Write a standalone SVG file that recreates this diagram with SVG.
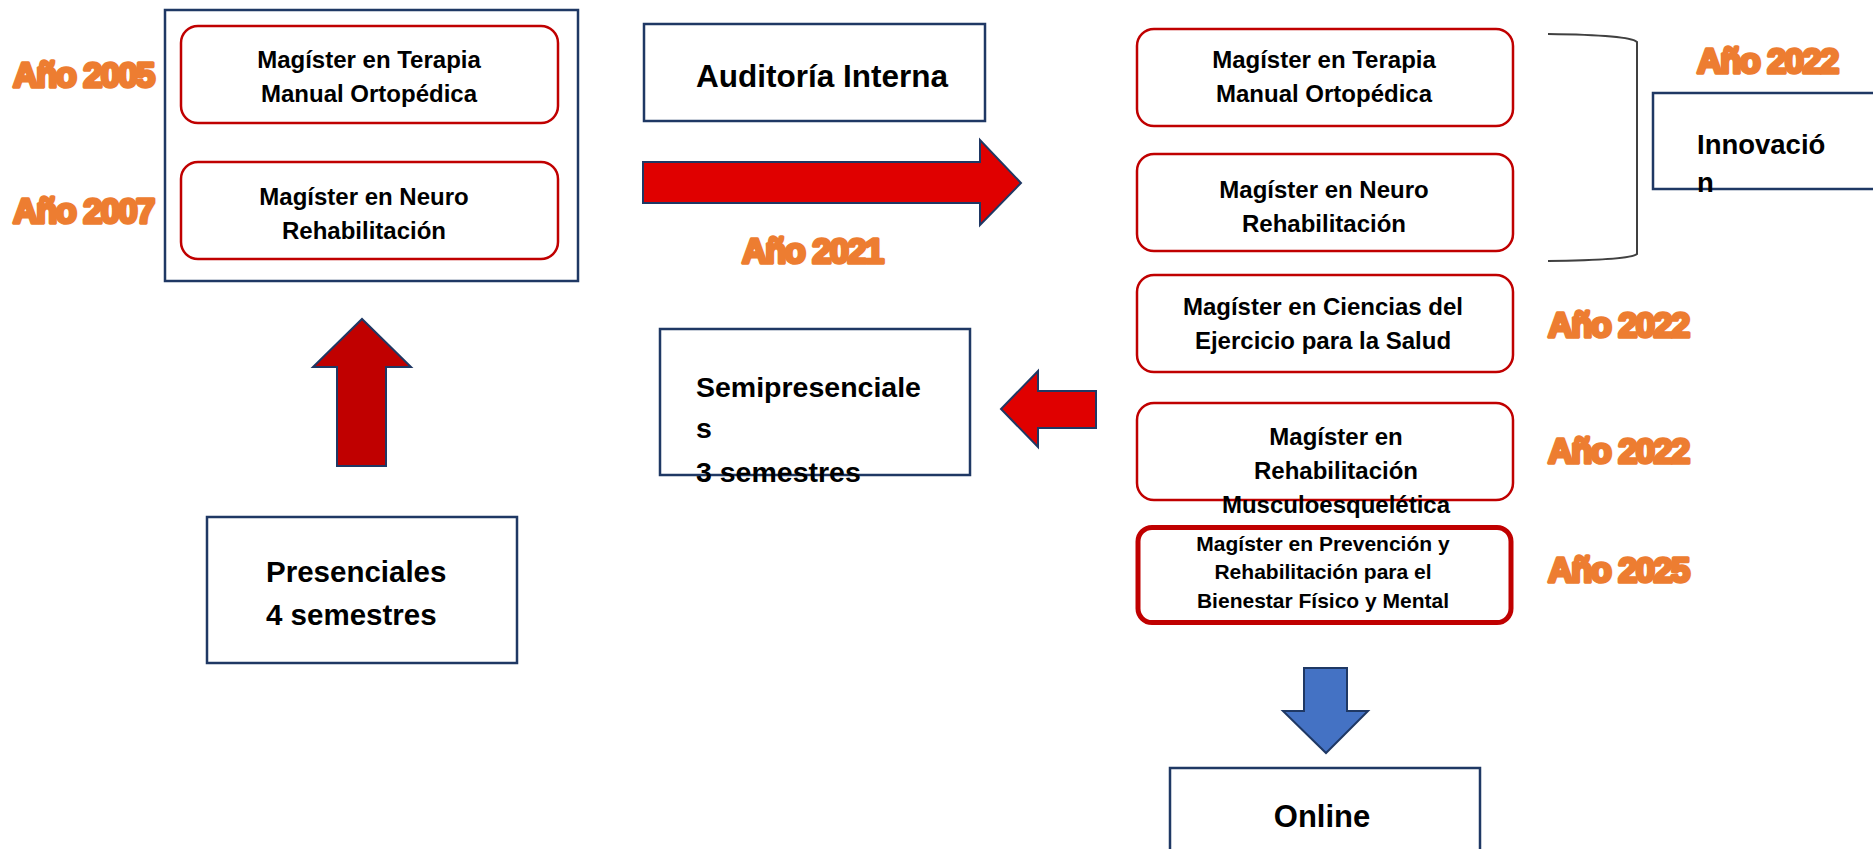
<svg xmlns="http://www.w3.org/2000/svg" width="1873" height="849" viewBox="0 0 1873 849">
<style>
.bg{fill:#ffffff}
.frame{fill:#ffffff;stroke:#1F3864;stroke-width:2.5}
.prog{fill:#ffffff;stroke:#C00000;stroke-width:2.5}
.prog2{fill:#ffffff;stroke:#C00000;stroke-width:5}
.t{font-family:"Liberation Sans",Arial,sans-serif;font-weight:bold;fill:#000000}
.c{text-anchor:middle}
.yr{font-family:"Liberation Sans",Arial,sans-serif;font-weight:bold;font-size:34.5px;letter-spacing:-1.6px;fill:#ED7D31;stroke:#ED7D31;stroke-width:3.5;stroke-linejoin:round;paint-order:stroke}
.arr{stroke:#1F3864;stroke-width:2;stroke-linejoin:miter}
.brace{fill:none;stroke:#404040;stroke-width:2}
</style>
<rect class="bg" x="0" y="0" width="1873" height="849"/>

<g id="connectors">
  <polygon class="arr" fill="#E00000" points="643,162 980,162 980,140 1021,183 980,225 980,203 643,203"/>
  <polygon class="arr" fill="#E00000" points="1096,391 1038,391 1038,371 1001,409 1038,447 1038,428 1096,428"/>
  <polygon class="arr" fill="#C00000" points="337,466 337,367 313,367 362,319 411,367 386,367 386,466"/>
  <polygon class="arr" fill="#4472C4" points="1304,668 1347,668 1347,711 1368,711 1326,753 1283,711 1304,711"/>
  <path class="brace" d="M1548,34 Q1630,35 1637,42 L1637,254 Q1630,260 1548,261"/>
</g>

<g id="presencial-group">
  <rect class="frame" x="165" y="10" width="413" height="271"/>
</g>
<g id="mtmo-2005">
  <rect class="prog" x="181" y="26" width="377" height="97" rx="17"/>
  <text class="t c" font-size="24" x="369" y="68">Magíster en Terapia</text>
  <text class="t c" font-size="24" x="369" y="102">Manual Ortopédica</text>
</g>
<g id="mnr-2007">
  <rect class="prog" x="181" y="162" width="377" height="97" rx="17"/>
  <text class="t c" font-size="24" x="364" y="205">Magíster en Neuro</text>
  <text class="t c" font-size="24" x="364" y="239">Rehabilitación</text>
</g>
<g id="year-2005"><text class="yr" x="13" y="87">Año 2005</text></g>
<g id="year-2007"><text class="yr" x="13" y="223">Año 2007</text></g>

<g id="auditoria">
  <rect class="frame" x="644" y="24" width="341" height="97"/>
  <text class="t" font-size="31.5" x="696" y="87">Auditoría Interna</text>
</g>
<g id="year-2021"><text class="yr" x="742" y="263">Año 2021</text></g>

<g id="presenciales">
  <rect class="frame" x="207" y="517" width="310" height="146"/>
  <text class="t" font-size="29.5" x="266" y="582">Presenciales</text>
  <text class="t" font-size="29.5" x="266" y="625">4 semestres</text>
</g>

<g id="semipresenciales">
  <rect class="frame" x="660" y="329" width="310" height="146"/>
  <text class="t" font-size="28.5" x="696" y="397">Semipresenciale</text>
  <text class="t" font-size="28.5" x="696" y="438">s</text>
  <text class="t" font-size="28.5" x="696" y="482">3 semestres</text>
</g>

<g id="r-mtmo">
  <rect class="prog" x="1137" y="29" width="376" height="97" rx="17"/>
  <text class="t c" font-size="24" x="1324" y="68">Magíster en Terapia</text>
  <text class="t c" font-size="24" x="1324" y="102">Manual Ortopédica</text>
</g>
<g id="r-mnr">
  <rect class="prog" x="1137" y="154" width="376" height="97" rx="17"/>
  <text class="t c" font-size="24" x="1324" y="198">Magíster en Neuro</text>
  <text class="t c" font-size="24" x="1324" y="232">Rehabilitación</text>
</g>
<g id="r-mces">
  <rect class="prog" x="1137" y="275" width="376" height="97" rx="17"/>
  <text class="t c" font-size="24" x="1323" y="315">Magíster en Ciencias del</text>
  <text class="t c" font-size="24" x="1323" y="349">Ejercicio para la Salud</text>
</g>
<g id="r-mrme">
  <rect class="prog" x="1137" y="403" width="376" height="97" rx="17"/>
  <text class="t c" font-size="24" x="1336" y="445">Magíster en</text>
  <text class="t c" font-size="24" x="1336" y="479">Rehabilitación</text>
  <text class="t c" font-size="24" x="1336" y="513">Musculoesquelética</text>
</g>
<g id="r-mprb">
  <rect class="prog2" x="1138" y="527.5" width="373" height="95" rx="14"/>
  <text class="t c" font-size="21" x="1323" y="551">Magíster en Prevención y</text>
  <text class="t c" font-size="21" x="1323" y="579">Rehabilitación para el</text>
  <text class="t c" font-size="21" x="1323" y="608">Bienestar Físico y Mental</text>
</g>

<g id="innovacion">
  <rect class="frame" x="1653" y="93" width="240" height="96"/>
  <text class="t" font-size="27.5" x="1697" y="154">Innovació</text>
  <text class="t" font-size="27.5" x="1697" y="192">n</text>
</g>
<g id="year-2022-a"><text class="yr" x="1697" y="73">Año 2022</text></g>
<g id="year-2022-b"><text class="yr" x="1548" y="337">Año 2022</text></g>
<g id="year-2022-c"><text class="yr" x="1548" y="463">Año 2022</text></g>
<g id="year-2025"><text class="yr" x="1548" y="582">Año 2025</text></g>

<g id="online">
  <rect class="frame" x="1170" y="768" width="310" height="100"/>
  <text class="t c" font-size="31" x="1322" y="827">Online</text>
</g>
</svg>
